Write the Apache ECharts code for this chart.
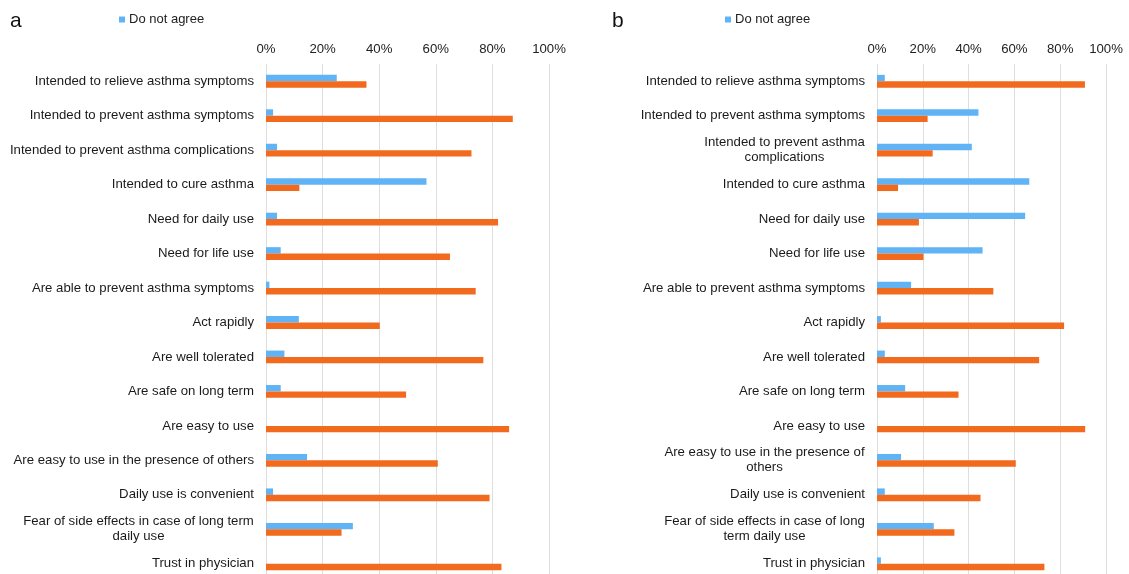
<!DOCTYPE html>
<html>
<head>
<meta charset="utf-8">
<script src="https://cdn.jsdelivr.net/npm/echarts@6/dist/echarts.min.js"></script>
<style>
  html, body { margin: 0; padding: 0; background: #ffffff; overflow: hidden; }
  /* plot area runs a little past the bottom edge of the window */
  #chart { width: 1129px; height: 582px; }
</style>
</head>
<body>
<div id="chart"></div>
<script>
// Statements, panel a (one line each)
const categoriesA = [
  'Intended to relieve asthma symptoms',
  'Intended to prevent asthma symptoms',
  'Intended to prevent asthma complications',
  'Intended to cure asthma',
  'Need for daily use',
  'Need for life use',
  'Are able to prevent asthma symptoms',
  'Act rapidly',
  'Are well tolerated',
  'Are safe on long term',
  'Are easy to use',
  'Are easy to use in the presence of others',
  'Daily use is convenient',
  'Fear of side effects in case of long term\ndaily use',
  'Trust in physician'
];
// Statements, panel b (narrower label column, more wrapping)
const categoriesB = [
  'Intended to relieve asthma symptoms',
  'Intended to prevent asthma symptoms',
  'Intended to prevent asthma\ncomplications',
  'Intended to cure asthma',
  'Need for daily use',
  'Need for life use',
  'Are able to prevent asthma symptoms',
  'Act rapidly',
  'Are well tolerated',
  'Are safe on long term',
  'Are easy to use',
  'Are easy to use in the presence of\nothers',
  'Daily use is convenient',
  'Fear of side effects in case of long\nterm daily use',
  'Trust in physician'
];
// Percent of respondents
const notAgreeA = [25, 2.5, 3.9, 56.7, 3.9, 5.2, 1.2, 11.6, 6.5, 5.2, 0, 14.5, 2.5, 30.7, 0];
const agreeA    = [35.5, 87.2, 72.6, 11.8, 82, 65, 74.1, 40.2, 76.8, 49.5, 85.9, 60.7, 79, 26.7, 83.2];
const notAgreeB = [3.4, 44.3, 41.4, 66.5, 64.7, 46.1, 14.9, 1.7, 3.4, 12.3, 0, 10.5, 3.4, 24.8, 1.7];
const agreeB    = [90.8, 22.1, 24.3, 9.2, 18.3, 20.3, 50.8, 81.7, 70.8, 35.6, 90.9, 60.6, 45.2, 33.8, 73.1];
const tickValues = [0, 20, 40, 60, 80, 100];

const FONT = '"Liberation Sans", Arial, sans-serif';
const LABEL_SIZE = 13.2;
const BLUE = '#60b3f4';
const ORANGE = '#f26a1e';
const TEXT = '#1a1a1a';

// Multi-line labels are centred within their own block, the block right-aligned to the axis
const measureCtx = document.createElement('canvas').getContext('2d');
measureCtx.font = LABEL_SIZE + 'px ' + FONT;
function labelSetup(cats) {
  const rich = {};
  const map = {};
  cats.forEach((c, i) => {
    const lines = c.split('\n');
    if (lines.length > 1) {
      const w = Math.ceil(Math.max(...lines.map(l => measureCtx.measureText(l).width)));
      const key = 'w' + i;
      rich[key] = { width: w, align: 'center', fontSize: LABEL_SIZE, fontFamily: FONT, color: TEXT, lineHeight: 15 };
      map[c] = lines.map(l => '{' + key + '|' + l + '}').join('\n');
    }
  });
  return { rich, formatter: v => map[v] || v };
}
const labA = labelSetup(categoriesA);
const labB = labelSetup(categoriesB);

const chart = echarts.init(document.getElementById('chart'), null, { renderer: 'canvas' });

function xAxisCfg(gi) {
  return {
    gridIndex: gi, type: 'value', position: 'top', min: 0, max: 100, interval: 20,
    axisLine: { show: false }, axisTick: { show: false },
    axisLabel: { formatter: v => tickValues.includes(v) ? v + '%' : '', fontSize: LABEL_SIZE, fontFamily: FONT, color: '#222', margin: 8 },
    splitLine: { show: true, lineStyle: { color: '#dedede', width: 1 } }
  };
}
function yAxisCfg(gi, cats, lab) {
  return {
    gridIndex: gi, type: 'category', data: cats, inverse: true,
    axisLine: { show: false }, axisTick: { show: false },
    axisLabel: { fontSize: LABEL_SIZE, fontFamily: FONT, color: TEXT, margin: 12, lineHeight: 15, formatter: lab.formatter, rich: lab.rich }
  };
}
function barSeries(name, data, color, gi) {
  return {
    name, type: 'bar', xAxisIndex: gi, yAxisIndex: gi, data,
    barWidth: 6.4, barGap: '0%', itemStyle: { color }, emphasis: { disabled: true }
  };
}
function legendCfg(left) {
  return {
    data: ['Do not agree'], left, top: 8, itemWidth: 6, itemHeight: 6, icon: 'rect',
    textStyle: { fontSize: 13, fontFamily: FONT, color: '#222', padding: [0, 0, 0, -1] }
  };
}

chart.setOption({
  animation: false,
  textStyle: { fontFamily: FONT },
  title: [
    { text: 'a', left: 5, top: 6, textStyle: { fontSize: 21, fontWeight: 'normal', color: '#111', fontFamily: FONT } },
    { text: 'b', left: 607, top: 6, textStyle: { fontSize: 21, fontWeight: 'normal', color: '#111', fontFamily: FONT } }
  ],
  legend: [legendCfg(114), legendCfg(720)],
  grid: [
    { left: 266, width: 283, top: 64, height: 517 },
    { left: 877, width: 229, top: 64, height: 517 }
  ],
  xAxis: [xAxisCfg(0), xAxisCfg(1)],
  yAxis: [yAxisCfg(0, categoriesA, labA), yAxisCfg(1, categoriesB, labB)],
  series: [
    barSeries('Do not agree', notAgreeA, BLUE, 0),
    barSeries('Agree', agreeA, ORANGE, 0),
    barSeries('Do not agree', notAgreeB, BLUE, 1),
    barSeries('Agree', agreeB, ORANGE, 1)
  ]
});
</script>
</body>
</html>
